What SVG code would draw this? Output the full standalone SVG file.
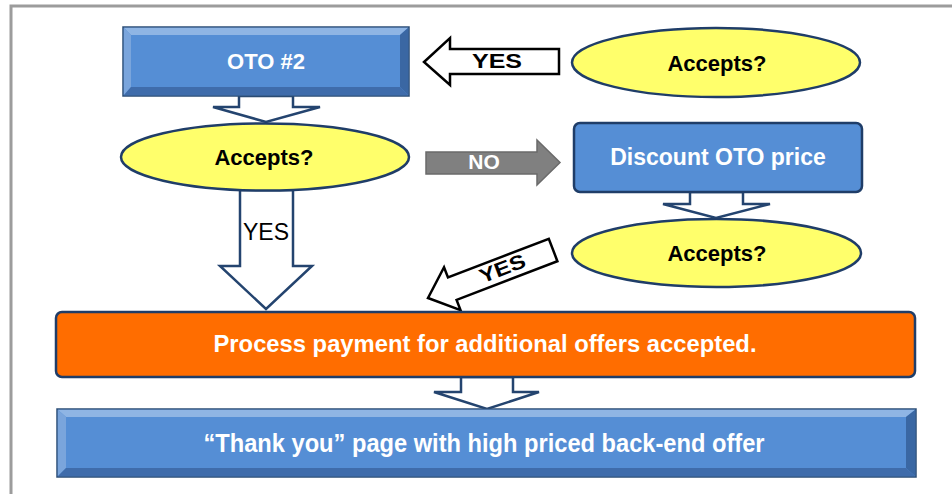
<svg xmlns="http://www.w3.org/2000/svg" width="952" height="494" viewBox="0 0 952 494">
<style>
  .frame{fill:#fff;stroke:#9c9c9c;stroke-width:3}
  .blockarrow{fill:#fff;stroke:#24446f;stroke-width:2.5;stroke-linejoin:miter}
  .blackarrow{fill:#fff;stroke:#000;stroke-width:2.5;stroke-linejoin:miter}
  .grayarrow{fill:#808080;stroke:#6a6a6a;stroke-width:1.5}
  .dec{fill:#ffff6b;stroke:#1f3d68;stroke-width:2.5}
  .box{fill:#558ed5;stroke:#1f3d68;stroke-width:2.5}
  .orange{fill:#ff6d00;stroke:#1f3d68;stroke-width:2.5}
  .bevmain{fill:#558ed5;stroke:#2c4d75;stroke-width:1.5}
  .bevtop{fill:#8fb5e4}
  .bevleft{fill:#7aa5dc}
  .bevright{fill:#3a67a3}
  .bevbot{fill:#41700b;fill:#3f6cab}
  .wt{font-family:"Liberation Sans",Arial,sans-serif;font-weight:bold;fill:#fff;text-anchor:middle}
  .bt{font-family:"Liberation Sans",Arial,sans-serif;font-weight:bold;fill:#000;text-anchor:middle}
  .yt{font-family:"Liberation Sans",Arial,sans-serif;fill:#000;text-anchor:middle}
</style>
<rect class="frame" x="11" y="6" width="960" height="500"/>

<g id="connectors">
  <path class="blockarrow" d="M239,96 L293,96 L293,107 L320,107 L266,122 L213,107 L239,107 Z"/>
  <path class="blockarrow" d="M240,190 L293,190 L293,266 L312,266 L266,309 L220,266 L240,266 Z"/>
  <text class="yt" x="266" y="240" font-size="23">YES</text>
  <path class="grayarrow" d="M426,152 L537,152 L537,140 L560,162.5 L537,185 L537,174 L426,174 Z"/>
  <text class="wt" x="484" y="169" font-size="21">NO</text>
  <path class="blackarrow" d="M559,49 L450,49 L450,38 L424,62 L450,85 L450,74 L559,74 Z"/>
  <text class="bt" x="497" y="68" font-size="21" textLength="50" lengthAdjust="spacingAndGlyphs">YES</text>
  <path class="blockarrow" d="M690,192 L743,192 L743,204 L770,204 L716,218 L663,204 L690,204 Z"/>
  <g transform="translate(428,298) rotate(-21)">
    <path class="blackarrow" d="M0,0 L26,-23 L26,-12 L134,-12 L134,12 L26,12 L26,23 Z"/>
    <text class="bt" x="80" y="6" font-size="20" textLength="48" lengthAdjust="spacingAndGlyphs">YES</text>
  </g>
  <path class="blockarrow" d="M461,377 L513,377 L513,392 L539,392 L487,409 L434,392 L461,392 Z"/>
</g>

<g id="oto2">
  <rect class="bevmain" x="123" y="27" width="286" height="69"/>
  <polygon class="bevtop" points="123.8,27.8 408.2,27.8 400,35 131,35"/>
  <polygon class="bevleft" points="123.8,27.8 131,35 131,87 123.8,95.2"/>
  <polygon class="bevright" points="408.2,27.8 408.2,95.2 400,87 400,35"/>
  <polygon class="bevbot" points="123.8,95.2 131,87 400,87 408.2,95.2"/>
  <text class="wt" x="266" y="69" font-size="22">OTO #2</text>
</g>

<g id="accepts1">
  <ellipse class="dec" cx="265" cy="157" rx="144" ry="33.5"/>
  <text class="bt" x="264" y="165" font-size="22">Accepts?</text>
</g>

<g id="accepts-top">
  <ellipse class="dec" cx="716" cy="62.5" rx="144" ry="34.5"/>
  <text class="bt" x="717" y="70.5" font-size="22">Accepts?</text>
</g>

<g id="discount">
  <rect class="box" x="574" y="123" width="288" height="69" rx="6"/>
  <text class="wt" x="718" y="165" font-size="23">Discount OTO price</text>
</g>

<g id="accepts2">
  <ellipse class="dec" cx="716.5" cy="253" rx="144.5" ry="34"/>
  <text class="bt" x="717" y="261" font-size="22">Accepts?</text>
</g>

<g id="payment">
  <rect class="orange" x="56" y="312" width="859" height="65" rx="6"/>
  <text class="wt" x="485" y="352" font-size="23" textLength="543" lengthAdjust="spacingAndGlyphs">Process payment for additional offers accepted.</text>
</g>

<g id="thankyou">
  <rect class="bevmain" x="57" y="409" width="859" height="68"/>
  <polygon class="bevtop" points="57.8,409.8 915.2,409.8 906,417 66,417"/>
  <polygon class="bevleft" points="57.8,409.8 66,417 66,468 57.8,476.2"/>
  <polygon class="bevright" points="915.2,409.8 915.2,476.2 906,468 906,417"/>
  <polygon class="bevbot" points="57.8,476.2 66,468 906,468 915.2,476.2"/>
  <text class="wt" x="484" y="452" font-size="25" textLength="561" lengthAdjust="spacingAndGlyphs">“Thank you” page with high priced back-end offer</text>
</g>
</svg>
